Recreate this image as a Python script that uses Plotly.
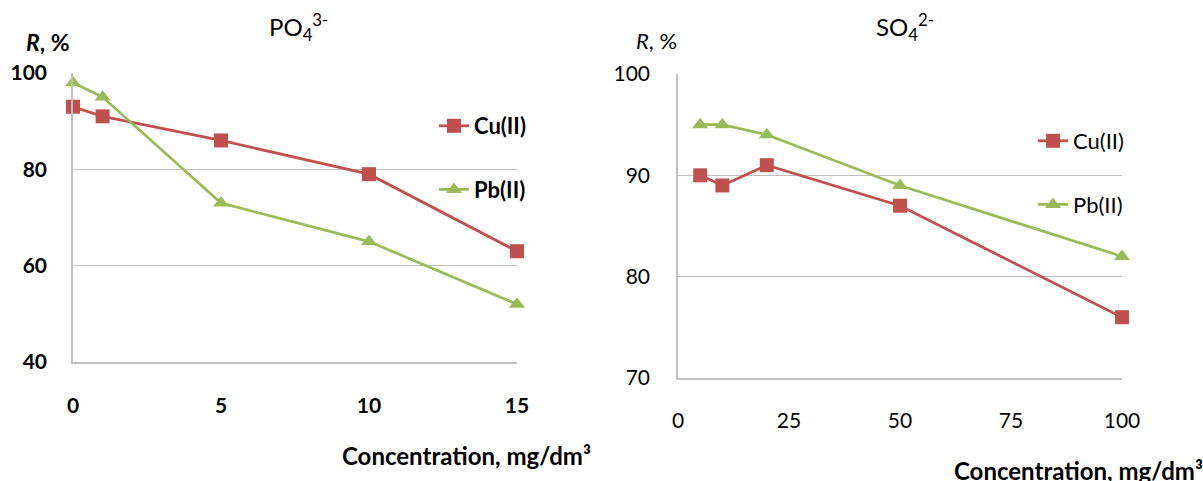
import plotly.graph_objects as go

# Left chart: PO4(3-)
po4_conc = [0, 1, 5, 10, 15]
po4_cu = [93, 91, 86, 79, 63]
po4_pb = [98, 95, 73, 65, 52]

# Right chart: SO4(2-)
so4_conc = [5, 10, 20, 50, 100]
so4_cu = [90, 89, 91, 87, 76]
so4_pb = [95, 95, 94, 89, 82]

left_xticks = [0, 5, 10, 15]
left_yticks = [40, 60, 80, 100]
right_xticks = [0, 25, 50, 75, 100]
right_yticks = [70, 80, 90, 100]

RED = "#C0504D"
GREEN = "#9BBB59"
GRID = "#C0C0C0"
FONT = "Lato"
W, H = 1203, 481

fig = go.Figure()

def add_series(x, y, name, color, symbol, xa, ya, legend, group, msize):
    fig.add_trace(go.Scatter(
        x=x, y=y, name=name, mode="lines+markers",
        line=dict(color=color, width=2.8),
        marker=dict(symbol=symbol, size=msize, color=color),
        xaxis=xa, yaxis=ya, legend=legend, legendgroup=group,
        cliponaxis=False,
    ))

add_series(po4_conc, po4_cu, "Cu(II)", RED, "square", "x", "y", "legend", "a1", 14)
add_series(po4_conc, po4_pb, "Pb(II)", GREEN, "triangle-up", "x", "y", "legend", "a2", 14)
add_series(so4_conc, so4_cu, "Cu(II)", RED, "square", "x2", "y2", "legend2", "b1", 14)
add_series(so4_conc, so4_pb, "Pb(II)", GREEN, "triangle-up", "x2", "y2", "legend2", "b2", 14)

def px_x(p):
    return p / W

def px_y(p):
    return (H - p) / H

tickfont_b = dict(family=FONT, size=21, color="black", weight="bold")
tickfont_n = dict(family=FONT, size=21, color="black")

common = dict(zeroline=False, ticks="", automargin=False, showline=True,
              linecolor=GRID, linewidth=1.5)

fig.update_layout(
    width=W, height=H,
    autosize=False,
    margin=dict(l=0, r=0, t=0, b=0, pad=0, autoexpand=False),
    paper_bgcolor="white", plot_bgcolor="white",
    font=dict(family=FONT, color="black"),
    xaxis=dict(domain=[px_x(73), px_x(517)], range=[0, 15], tickvals=left_xticks,
               showgrid=False, ticklabelstandoff=24, tickfont=tickfont_b,
               anchor="y", **common),
    yaxis=dict(domain=[px_y(362), px_y(73)], range=[40, 100], tickvals=left_yticks,
               showgrid=True, gridcolor=GRID, gridwidth=1.2,
               ticklabelstandoff=20, tickfont=tickfont_b, anchor="x", **common),
    xaxis2=dict(domain=[px_x(678), px_x(1122)], range=[0, 100], tickvals=right_xticks,
                showgrid=False, ticklabelstandoff=23, tickfont=tickfont_n,
                anchor="y2", **common),
    yaxis2=dict(domain=[px_y(378), px_y(74)], range=[70, 100], tickvals=right_yticks,
                showgrid=True, gridcolor=GRID, gridwidth=1.2,
                ticklabelstandoff=22, tickfont=tickfont_n, anchor="x2", **common),
    legend=dict(x=px_x(434), y=px_y(105), xanchor="left", yanchor="top",
                bgcolor="rgba(0,0,0,0)", tracegroupgap=32, itemwidth=30,
                font=dict(family=FONT, size=22, weight="bold")),
    legend2=dict(x=px_x(1033), y=px_y(120), xanchor="left", yanchor="top",
                 bgcolor="rgba(0,0,0,0)", tracegroupgap=32, itemwidth=30,
                 font=dict(family=FONT, size=22)),
)

annotations = [
    dict(text="PO<sub>4</sub><sup>3-</sup>", x=px_x(298), y=px_y(27), font=dict(size=24)),
    dict(text="SO<sub>4</sub><sup>2-</sup>", x=px_x(905), y=px_y(27), font=dict(size=24)),
    dict(text="<b><i>R</i>, %</b>", x=px_x(48), y=px_y(42), font=dict(size=23)),
    dict(text="<i>R</i>, %", x=px_x(656), y=px_y(40), font=dict(size=22)),
    dict(text="Concentration, mg/dm³", x=px_x(466), y=px_y(455), font=dict(size=24, weight="bold")),
    dict(text="Concentration, mg/dm³", x=px_x(1078), y=px_y(470), font=dict(size=24, weight="bold")),
]
for a in annotations:
    a.update(xref="paper", yref="paper", showarrow=False, xanchor="center", yanchor="middle")
    a["font"].setdefault("family", FONT)
    a["font"].setdefault("color", "black")
fig.update_layout(annotations=annotations)

fig.write_html(
    "out.html",
    config={"displayModeBar": False},
    post_script="document.body.style.margin='0px';document.body.style.overflow='hidden';",
)
